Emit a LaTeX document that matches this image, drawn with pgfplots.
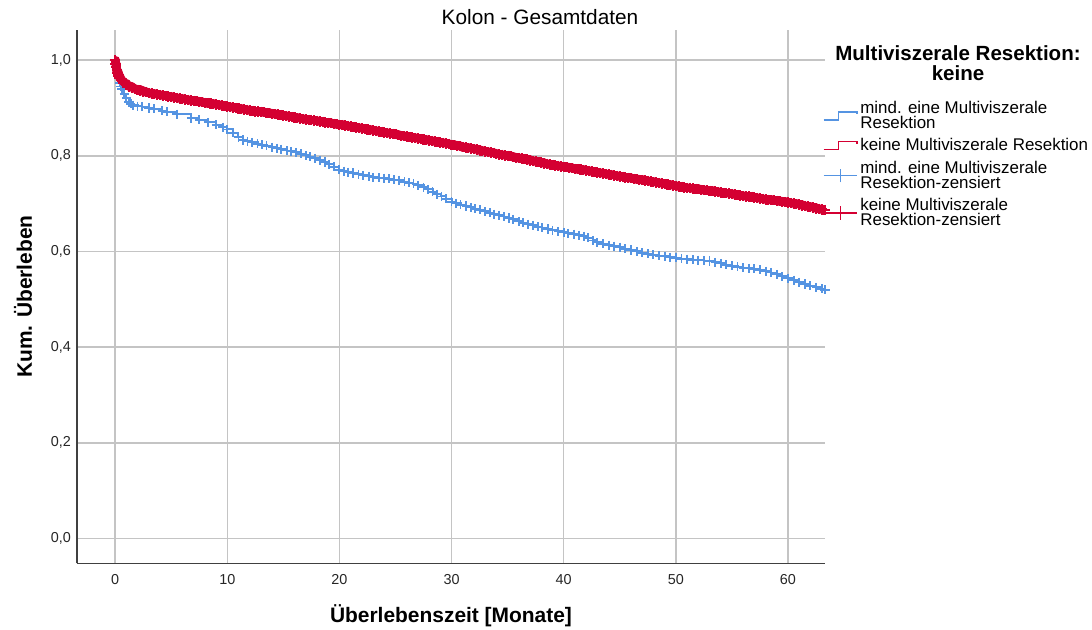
\documentclass[border=0pt]{standalone}
\usepackage{pgfplots}
\pgfplotsset{compat=1.18}
\usepackage{fontspec}
\setmainfont{Liberation Sans}
\definecolor{kmblue}{RGB}{85,148,226}
\definecolor{kmred}{RGB}{212,0,50}
\definecolor{gridgray}{RGB}{196,196,196}

\pgfplotstableread{
x y
0 1.000
0.05 0.992
0.1 0.985
0.15 0.979
0.2 0.974
0.3 0.968
0.4 0.963
0.5 0.959
0.6 0.956
0.75 0.952
1.0 0.948
1.25 0.945
1.5 0.942
1.75 0.940
2.0 0.938
2.25 0.936
2.5 0.934
2.75 0.933
3.0 0.931
3.25 0.930
3.5 0.929
3.75 0.928
4 0.927
4.25 0.926
4.5 0.925
4.75 0.924
5 0.923
5.25 0.922
5.5 0.921
5.75 0.920
6 0.919
6.25 0.918
6.5 0.917
6.75 0.916
7 0.915
7.25 0.914
7.5 0.913
7.75 0.912
8 0.911
8.25 0.910
8.5 0.909
8.75 0.908
9 0.907
9.25 0.906
9.5 0.905
9.75 0.904
10 0.903
10.25 0.902
10.5 0.901
10.75 0.900
11 0.899
11.25 0.898
11.5 0.897
11.75 0.896
12 0.895
12.25 0.894
12.5 0.893
12.75 0.893
13 0.892
13.25 0.891
13.5 0.890
13.75 0.889
14 0.888
14.25 0.887
14.5 0.886
14.75 0.885
15 0.884
15.25 0.883
15.5 0.882
15.75 0.881
16 0.880
16.25 0.879
16.5 0.878
16.75 0.877
17 0.876
17.25 0.875
17.5 0.875
17.75 0.874
18 0.873
18.25 0.872
18.5 0.871
18.75 0.870
19 0.869
19.25 0.868
19.5 0.867
19.75 0.866
20 0.865
20.25 0.864
20.5 0.863
20.75 0.862
21 0.861
21.25 0.860
21.5 0.859
21.75 0.858
22 0.857
22.25 0.856
22.5 0.855
22.75 0.854
23 0.853
23.25 0.852
23.5 0.851
23.75 0.850
24 0.849
24.25 0.848
24.5 0.847
24.75 0.846
25 0.845
25.25 0.843
25.5 0.842
25.75 0.841
26 0.840
26.25 0.839
26.5 0.838
26.75 0.837
27 0.836
27.25 0.835
27.5 0.834
27.75 0.833
28 0.832
28.25 0.831
28.5 0.830
28.75 0.829
29 0.828
29.25 0.827
29.5 0.826
29.75 0.825
30 0.823
30.25 0.822
30.5 0.821
30.75 0.820
31 0.818
31.25 0.817
31.5 0.816
31.75 0.815
32 0.814
32.25 0.813
32.5 0.811
32.75 0.810
33 0.809
33.25 0.808
33.5 0.807
33.75 0.806
34 0.804
34.25 0.803
34.5 0.802
34.75 0.801
35 0.800
35.25 0.799
35.5 0.797
35.75 0.796
36 0.795
36.25 0.794
36.5 0.793
36.75 0.792
37 0.790
37.25 0.789
37.5 0.788
37.75 0.787
38 0.786
38.25 0.784
38.5 0.783
38.75 0.782
39 0.781
39.25 0.780
39.5 0.779
39.75 0.778
40 0.777
40.25 0.776
40.5 0.775
40.75 0.774
41 0.773
41.25 0.772
41.5 0.771
41.75 0.770
42 0.769
42.25 0.768
42.5 0.767
42.75 0.766
43 0.765
43.25 0.764
43.5 0.763
43.75 0.762
44 0.761
44.25 0.760
44.5 0.759
44.75 0.758
45 0.757
45.25 0.756
45.5 0.755
45.75 0.754
46 0.753
46.25 0.752
46.5 0.751
46.75 0.750
47 0.749
47.25 0.748
47.5 0.747
47.75 0.746
48 0.745
48.25 0.744
48.5 0.743
48.75 0.742
49 0.741
49.25 0.740
49.5 0.739
49.75 0.738
50 0.737
50.25 0.736
50.5 0.735
50.75 0.734
51 0.733
51.25 0.733
51.5 0.732
51.75 0.731
52 0.730
52.25 0.729
52.5 0.728
52.75 0.728
53 0.727
53.25 0.726
53.5 0.725
53.75 0.724
54 0.723
54.25 0.722
54.5 0.722
54.75 0.721
55 0.720
55.25 0.719
55.5 0.718
55.75 0.717
56 0.716
56.25 0.715
56.5 0.715
56.75 0.714
57 0.713
57.25 0.712
57.5 0.711
57.75 0.710
58 0.709
58.25 0.708
58.5 0.707
58.75 0.707
59 0.706
59.25 0.705
59.5 0.704
59.75 0.703
60 0.702
60.25 0.701
60.5 0.700
60.75 0.699
61 0.698
61.25 0.696
61.5 0.695
61.75 0.694
62 0.693
62.25 0.692
62.5 0.690
62.75 0.689
63 0.688
63.25 0.687
}\redtable

\pgfplotstableread{
x y
0 1.000
0.1 0.985
0.2 0.972
0.3 0.962
0.4 0.953
0.5 0.945
0.6 0.939
0.8 0.930
1.0 0.920
1.2 0.912
1.4 0.909
1.6 0.906
2.0 0.904
2.4 0.903
3.0 0.900
3.5 0.898
4.2 0.894
4.6 0.892
5.5 0.887
6.8 0.879
7.5 0.875
8.3 0.870
9.0 0.865
9.6 0.860
10.0 0.855
10.5 0.848
11.0 0.839
11.4 0.833
11.8 0.830
12.2 0.828
12.7 0.825
13.1 0.823
13.5 0.821
14.0 0.818
14.4 0.816
14.8 0.814
15.3 0.811
15.7 0.809
16.1 0.807
16.6 0.804
17.0 0.801
17.4 0.798
17.8 0.795
18.3 0.791
18.7 0.787
19.1 0.782
19.5 0.777
20.0 0.771
20.4 0.768
20.8 0.766
21.2 0.764
21.7 0.761
22.1 0.759
22.6 0.757
23.0 0.755
23.5 0.754
24.0 0.753
24.4 0.752
24.9 0.750
25.3 0.749
25.8 0.746
26.2 0.744
26.6 0.742
27.0 0.738
27.5 0.734
27.9 0.730
28.3 0.725
28.7 0.720
29.1 0.715
29.5 0.710
30.0 0.704
30.4 0.701
30.8 0.698
31.3 0.695
31.7 0.692
32.1 0.689
32.5 0.687
33.0 0.684
33.4 0.681
33.8 0.678
34.2 0.676
34.7 0.673
35.1 0.670
35.5 0.667
36.0 0.663
36.4 0.660
36.8 0.657
37.3 0.655
37.7 0.652
38.1 0.650
38.6 0.647
39.0 0.644
39.5 0.642
40.0 0.640
40.4 0.638
40.9 0.636
41.4 0.634
41.8 0.632
42.2 0.629
42.6 0.623
43.0 0.619
43.5 0.616
44.0 0.613
44.5 0.611
45.0 0.609
45.5 0.606
46.0 0.603
46.5 0.600
47.0 0.597
47.5 0.595
48.0 0.593
48.5 0.591
49.0 0.590
49.5 0.588
50.0 0.587
50.5 0.585
51.0 0.584
51.5 0.583
52.0 0.582
52.5 0.581
53.0 0.580
53.5 0.577
54.0 0.575
54.5 0.572
55.0 0.570
55.5 0.568
56.0 0.566
56.5 0.565
57.0 0.564
57.5 0.562
58.0 0.559
58.5 0.556
59.0 0.552
59.5 0.548
60.0 0.544
60.5 0.540
61.0 0.536
61.5 0.532
62.0 0.528
62.5 0.525
63.0 0.522
63.3 0.520
}\bluetable

\begin{document}
\begin{tikzpicture}
\path[use as bounding box] (-57.75pt,-49.5pt) rectangle (761.25pt,422.5pt);
\begin{axis}[
  at={(0pt,0pt)}, anchor=south west,
  scale only axis, width=561pt, height=400pt,
  xmin=-3.4, xmax=63.3, ymin=-0.052, ymax=1.063,
  axis lines*=left,
  axis line style={-, draw=black!75, line width=0.8pt},
  xtick={0,10,20,30,40,50,60},
  xticklabels={0,10,20,30,40,50,60},
  ytick={0,0.2,0.4,0.6,0.8,1},
  yticklabels={{0,0},{0,2},{0,4},{0,6},{0,8},{1,0}},
  major tick length=0pt,
  tick label style={font=\fontsize{10.8}{12}\selectfont, text=black!85},
  xticklabel style={yshift=-5pt},
  yticklabel style={xshift=-1pt},
  grid=major,
  major grid style={draw=gridgray, line width=1.1pt},
  legend cell align=left,
  legend style={draw=none, fill=none, at={(0.997,0.872)}, anchor=north west,
    inner sep=0pt, cells={align=left},
    font=\fontsize{12.7}{11.4}\selectfont, row sep=2pt},
]
\addplot[const plot, kmblue, line width=1.5pt, mark=+, mark size=3.4pt,
  mark options={line width=1.4pt, solid}, forget plot] table[x=x,y=y] {\bluetable};
\addplot[const plot, kmred, line width=6.5pt, line join=round, mark=+, mark size=3.9pt,
  mark options={line width=1.6pt, solid}, forget plot] table[x=x,y=y] {\redtable};

\addlegendimage{legend image code/.code={
  \draw[kmblue, line width=1pt] (0pt,-3pt) -- (11pt,-3pt) -- (11pt,3pt) -- (25pt,3pt) -- (25pt,1.5pt);}}
\addlegendentry{mind. eine Multiviszerale\\Resektion}
\addlegendimage{legend image code/.code={
  \draw[kmred, line width=1pt] (0pt,-3pt) -- (11pt,-3pt) -- (11pt,3pt) -- (25pt,3pt) -- (25pt,1.5pt);}}
\addlegendentry{keine Multiviszerale Resektion}
\addlegendimage{legend image code/.code={
  \draw[kmblue, line width=1pt] (0pt,0pt) -- (25pt,0pt);
  \draw[kmblue, line width=1pt] (12.5pt,-5pt) -- (12.5pt,5pt);}}
\addlegendentry{mind. eine Multiviszerale\\Resektion-zensiert}
\addlegendimage{legend image code/.code={
  \draw[kmred, line width=1pt] (0pt,0pt) -- (25pt,0pt);
  \draw[kmred, line width=1pt] (12.5pt,-5pt) -- (12.5pt,5pt);}}
\addlegendentry{keine Multiviszerale\\Resektion-zensiert}
\end{axis}
\node[font=\fontsize{15.6}{17}\selectfont] at (347.25pt,409.5pt) {Kolon - Gesamtdaten};
\node[font=\bfseries\fontsize{15.7}{17}\selectfont, rotate=90] at (-40.5pt,200pt) {Kum. Überleben};
\node[font=\bfseries\fontsize{15.7}{17}\selectfont] at (280.5pt,-39pt) {Überlebenszeit [Monate]};
\node[font=\bfseries\fontsize{15.4}{15}\selectfont, align=center] at (660.75pt,375pt) {Multiviszerale Resektion:\\keine};
\end{tikzpicture}
\end{document}
